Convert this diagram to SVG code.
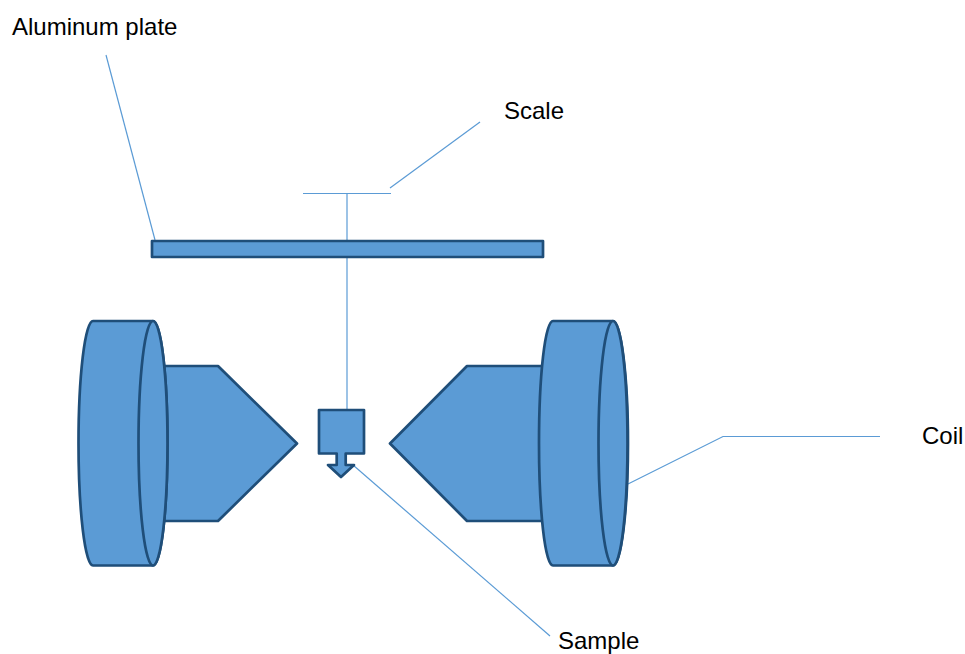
<svg xmlns="http://www.w3.org/2000/svg" width="965" height="654" viewBox="0 0 965 654">
<style>
.s{fill:#5b9bd5;stroke:#1f4e79;stroke-width:2.7;stroke-linejoin:round}
.c{fill:none;stroke:#5b9bd5;stroke-width:1.2}
text{font-family:"Liberation Sans",Arial,sans-serif;font-size:24px;fill:#000}
</style>
<rect width="965" height="654" fill="#fff"/>
<g id="connectors">
<path class="c" d="M106 55L155 240"/>
<path class="c" d="M480 122L390 188"/>
<path class="c" d="M303 193.500H391"/>
<path class="c" d="M347 193.500V410"/>
<path class="c" d="M628 484L723 436.500H880"/>
<path class="c" d="M550 636L353 465"/>
</g>
<g id="plate"><rect class="s" x="152" y="241" width="391" height="16"/></g>
<g id="pole-left"><path class="s" d="M160 366H218L297 443.500L218 521H160Z"/></g>
<g id="pole-right"><path class="s" d="M548 366H467L390 443.500L467 521H548Z"/></g>
<g id="coil-left">
<path class="s" d="M93 321H153C161 321 167.500 376 167.500 443.250C167.500 510.500 161 565.500 153 565.500H93C85 565.500 78.500 510.500 78.500 443.250C78.500 376 85 321 93 321Z"/>
<ellipse class="s" cx="153" cy="443.250" rx="14.500" ry="122.250"/>
</g>
<g id="coil-right">
<path class="s" d="M553 321H613C621 321 628 376 628 443.250C628 510.500 621 565.500 613 565.500H553C545 565.500 539 510.500 539 443.250C539 376 545 321 553 321Z"/>
<ellipse class="s" cx="613" cy="443.250" rx="14.500" ry="122.250"/>
</g>
<g id="sample"><path class="s" d="M319 410H364V453.500H345.700V465H354L341 477L328 465H336.700V453.500H319Z"/></g>
<g id="labels">
<text x="12" y="35">Aluminum plate</text>
<text x="504" y="119">Scale</text>
<text x="922" y="444">Coil</text>
<text x="558" y="648.500">Sample</text>
</g>
</svg>
